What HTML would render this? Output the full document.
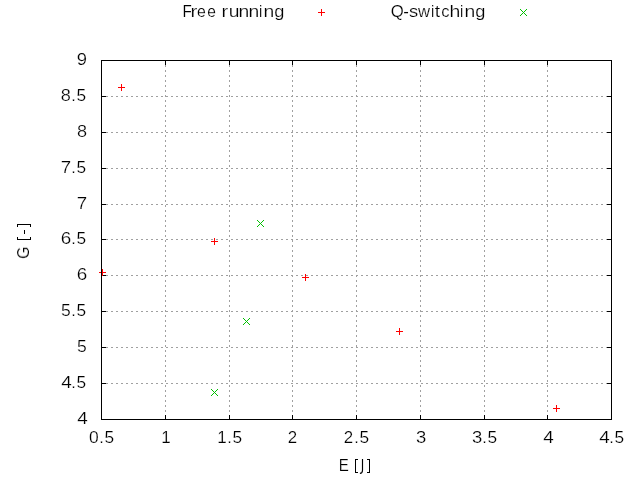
<!DOCTYPE html>
<html><head><meta charset="utf-8"><title>plot</title>
<style>html,body{margin:0;padding:0;background:#fff;overflow:hidden}svg{display:block}text{font-family:"Liberation Sans",sans-serif;fill:#000000;stroke:#fff;stroke-width:0.2px}.d{font-size:16.75px}.l{font-size:17.0px}</style>
</head><body>
<svg width="640" height="480" viewBox="0 0 640 480">
<rect x="0" y="0" width="640" height="480" fill="#ffffff"/>
<g shape-rendering="crispEdges" stroke="#a0a0a0" stroke-width="1" stroke-dasharray="2 3" fill="none">
<line x1="101" y1="383.5" x2="612" y2="383.5"/>
<line x1="101" y1="347.5" x2="612" y2="347.5"/>
<line x1="101" y1="311.5" x2="612" y2="311.5"/>
<line x1="101" y1="275.5" x2="612" y2="275.5"/>
<line x1="101" y1="239.5" x2="612" y2="239.5"/>
<line x1="101" y1="204.5" x2="612" y2="204.5"/>
<line x1="101" y1="168.5" x2="612" y2="168.5"/>
<line x1="101" y1="132.5" x2="612" y2="132.5"/>
<line x1="101" y1="96.5" x2="612" y2="96.5"/>
<line x1="165.5" y1="60" x2="165.5" y2="420"/>
<line x1="229.5" y1="60" x2="229.5" y2="420"/>
<line x1="292.5" y1="60" x2="292.5" y2="420"/>
<line x1="356.5" y1="60" x2="356.5" y2="420"/>
<line x1="420.5" y1="60" x2="420.5" y2="420"/>
<line x1="484.5" y1="60" x2="484.5" y2="420"/>
<line x1="547.5" y1="60" x2="547.5" y2="420"/>
</g>
<g shape-rendering="crispEdges" fill="#000000">
<rect x="102" y="383" width="4" height="1"/>
<rect x="607" y="383" width="4" height="1"/>
<rect x="102" y="347" width="4" height="1"/>
<rect x="607" y="347" width="4" height="1"/>
<rect x="102" y="311" width="4" height="1"/>
<rect x="607" y="311" width="4" height="1"/>
<rect x="102" y="275" width="4" height="1"/>
<rect x="607" y="275" width="4" height="1"/>
<rect x="102" y="239" width="4" height="1"/>
<rect x="607" y="239" width="4" height="1"/>
<rect x="102" y="204" width="4" height="1"/>
<rect x="607" y="204" width="4" height="1"/>
<rect x="102" y="168" width="4" height="1"/>
<rect x="607" y="168" width="4" height="1"/>
<rect x="102" y="132" width="4" height="1"/>
<rect x="607" y="132" width="4" height="1"/>
<rect x="102" y="96" width="4" height="1"/>
<rect x="607" y="96" width="4" height="1"/>
<rect x="165" y="415" width="1" height="4"/>
<rect x="165" y="61" width="1" height="4"/>
<rect x="229" y="415" width="1" height="4"/>
<rect x="229" y="61" width="1" height="4"/>
<rect x="292" y="415" width="1" height="4"/>
<rect x="292" y="61" width="1" height="4"/>
<rect x="356" y="415" width="1" height="4"/>
<rect x="356" y="61" width="1" height="4"/>
<rect x="420" y="415" width="1" height="4"/>
<rect x="420" y="61" width="1" height="4"/>
<rect x="484" y="415" width="1" height="4"/>
<rect x="484" y="61" width="1" height="4"/>
<rect x="547" y="415" width="1" height="4"/>
<rect x="547" y="61" width="1" height="4"/>
</g>
<g shape-rendering="crispEdges" fill="#ff0000">
<rect x="318" y="12" width="7" height="1"/><rect x="321" y="9" width="1" height="7"/>
<rect x="99" y="272" width="7" height="1"/><rect x="102" y="269" width="1" height="7"/>
<rect x="118" y="87" width="7" height="1"/><rect x="121" y="84" width="1" height="7"/>
<rect x="211" y="241" width="7" height="1"/><rect x="214" y="238" width="1" height="7"/>
<rect x="302" y="277" width="7" height="1"/><rect x="305" y="274" width="1" height="7"/>
<rect x="396" y="331" width="7" height="1"/><rect x="399" y="328" width="1" height="7"/>
<rect x="553" y="408" width="7" height="1"/><rect x="556" y="405" width="1" height="7"/>
</g>
<g shape-rendering="crispEdges" fill="#00c000">
<rect x="520" y="9" width="1" height="1"/><rect x="520" y="15" width="1" height="1"/><rect x="521" y="10" width="1" height="1"/><rect x="521" y="14" width="1" height="1"/><rect x="522" y="11" width="1" height="1"/><rect x="522" y="13" width="1" height="1"/><rect x="523" y="12" width="1" height="1"/><rect x="524" y="13" width="1" height="1"/><rect x="524" y="11" width="1" height="1"/><rect x="525" y="14" width="1" height="1"/><rect x="525" y="10" width="1" height="1"/><rect x="526" y="15" width="1" height="1"/><rect x="526" y="9" width="1" height="1"/>
<rect x="257" y="220" width="1" height="1"/><rect x="257" y="226" width="1" height="1"/><rect x="258" y="221" width="1" height="1"/><rect x="258" y="225" width="1" height="1"/><rect x="259" y="222" width="1" height="1"/><rect x="259" y="224" width="1" height="1"/><rect x="260" y="223" width="1" height="1"/><rect x="261" y="224" width="1" height="1"/><rect x="261" y="222" width="1" height="1"/><rect x="262" y="225" width="1" height="1"/><rect x="262" y="221" width="1" height="1"/><rect x="263" y="226" width="1" height="1"/><rect x="263" y="220" width="1" height="1"/>
<rect x="243" y="318" width="1" height="1"/><rect x="243" y="324" width="1" height="1"/><rect x="244" y="319" width="1" height="1"/><rect x="244" y="323" width="1" height="1"/><rect x="245" y="320" width="1" height="1"/><rect x="245" y="322" width="1" height="1"/><rect x="246" y="321" width="1" height="1"/><rect x="247" y="322" width="1" height="1"/><rect x="247" y="320" width="1" height="1"/><rect x="248" y="323" width="1" height="1"/><rect x="248" y="319" width="1" height="1"/><rect x="249" y="324" width="1" height="1"/><rect x="249" y="318" width="1" height="1"/>
<rect x="211" y="389" width="1" height="1"/><rect x="211" y="395" width="1" height="1"/><rect x="212" y="390" width="1" height="1"/><rect x="212" y="394" width="1" height="1"/><rect x="213" y="391" width="1" height="1"/><rect x="213" y="393" width="1" height="1"/><rect x="214" y="392" width="1" height="1"/><rect x="215" y="393" width="1" height="1"/><rect x="215" y="391" width="1" height="1"/><rect x="216" y="394" width="1" height="1"/><rect x="216" y="390" width="1" height="1"/><rect x="217" y="395" width="1" height="1"/><rect x="217" y="389" width="1" height="1"/>
</g>
<g shape-rendering="crispEdges" fill="#000000">
<rect x="101" y="60" width="511" height="1"/>
<rect x="101" y="419" width="511" height="1"/>
<rect x="101" y="60" width="1" height="360"/>
<rect x="611" y="60" width="1" height="360"/>
</g>
<g style="will-change:transform">
<text class="d" transform="translate(77.27,424.00) scale(1.1315,1)">4</text>
<text class="d" transform="translate(61.22,388.00) scale(1.1315,1)">4</text><text class="d" transform="translate(71.16,388.00) scale(0.9719,1)">.</text><text class="d" transform="translate(76.46,388.00) scale(1.0325,1)">5</text>
<text class="d" transform="translate(77.00,352.00) scale(1.0451,1)">5</text>
<text class="d" transform="translate(60.95,316.00) scale(1.0451,1)">5</text><text class="d" transform="translate(71.16,316.00) scale(0.9719,1)">.</text><text class="d" transform="translate(76.46,316.00) scale(1.0325,1)">5</text>
<text class="d" transform="translate(76.74,280.00) scale(1.1256,1)">6</text>
<text class="d" transform="translate(60.69,244.00) scale(1.1256,1)">6</text><text class="d" transform="translate(71.16,244.00) scale(0.9719,1)">.</text><text class="d" transform="translate(76.46,244.00) scale(1.0325,1)">5</text>
<text class="d" transform="translate(76.74,209.00) scale(1.1163,1)">7</text>
<text class="d" transform="translate(60.69,173.00) scale(1.1163,1)">7</text><text class="d" transform="translate(71.16,173.00) scale(0.9719,1)">.</text><text class="d" transform="translate(76.46,173.00) scale(1.0325,1)">5</text>
<text class="d" transform="translate(76.91,137.00) scale(1.0815,1)">8</text>
<text class="d" transform="translate(60.86,101.00) scale(1.0815,1)">8</text><text class="d" transform="translate(71.16,101.00) scale(0.9719,1)">.</text><text class="d" transform="translate(76.46,101.00) scale(1.0325,1)">5</text>
<text class="d" transform="translate(76.84,65.00) scale(1.0986,1)">9</text>
<text class="d" transform="translate(88.97,443.00) scale(1.0428,1)">0</text><text class="d" transform="translate(99.16,443.00) scale(0.9719,1)">.</text><text class="d" transform="translate(104.46,443.00) scale(1.0325,1)">5</text>
<text class="d" transform="translate(161.35,443.00) scale(1.0178,1)">1</text>
<text class="d" transform="translate(217.35,443.00) scale(1.0178,1)">1</text><text class="d" transform="translate(227.16,443.00) scale(0.9719,1)">.</text><text class="d" transform="translate(232.46,443.00) scale(1.0325,1)">5</text>
<text class="d" transform="translate(287.80,443.00) scale(1.0091,1)">2</text>
<text class="d" transform="translate(343.80,443.00) scale(1.0091,1)">2</text><text class="d" transform="translate(354.16,443.00) scale(0.9719,1)">.</text><text class="d" transform="translate(359.46,443.00) scale(1.0325,1)">5</text>
<text class="d" transform="translate(415.95,443.00) scale(1.1018,1)">3</text>
<text class="d" transform="translate(471.95,443.00) scale(1.1018,1)">3</text><text class="d" transform="translate(482.16,443.00) scale(0.9719,1)">.</text><text class="d" transform="translate(487.46,443.00) scale(1.0325,1)">5</text>
<text class="d" transform="translate(543.22,443.00) scale(1.1315,1)">4</text>
<text class="d" transform="translate(599.22,443.00) scale(1.1315,1)">4</text><text class="d" transform="translate(609.16,443.00) scale(0.9719,1)">.</text><text class="d" transform="translate(614.46,443.00) scale(1.0325,1)">5</text>
<text class="l" transform="translate(182.40,17.00) scale(0.8966,1)">F</text>
<text class="l" transform="translate(190.60,17.00) scale(1.2000,1)">r</text>
<text class="l" transform="translate(196.98,17.00) scale(0.9339,1)">e</text>
<text class="l" transform="translate(207.24,17.00) scale(0.9151,1)">e</text>
<text class="l" transform="translate(221.57,17.00) scale(1.1765,1)">r</text>
<text class="l" transform="translate(228.65,17.00) scale(1.1355,1)">u</text>
<text class="l" transform="translate(238.62,17.00) scale(1.1355,1)">n</text>
<text class="l" transform="translate(248.62,17.00) scale(1.1355,1)">n</text>
<text class="l" transform="translate(258.91,17.00) scale(0.8701,1)">i</text>
<text class="l" transform="translate(263.62,17.00) scale(1.1355,1)">n</text>
<text class="l" transform="translate(274.13,17.00) scale(1.0726,1)">g</text>
<text class="l" transform="translate(390.86,17.00) scale(0.9867,1)">Q</text>
<text class="l" transform="translate(403.25,17.00) scale(0.9879,1)">-</text>
<text class="l" transform="translate(408.99,17.00) scale(1.0792,1)">s</text>
<text class="l" transform="translate(418.02,17.00) scale(0.9803,1)">w</text>
<text class="l" transform="translate(430.91,17.00) scale(0.8701,1)">i</text>
<text class="l" transform="translate(434.86,17.00) scale(1.1402,1)">t</text>
<text class="l" transform="translate(441.29,17.00) scale(0.9823,1)">c</text>
<text class="l" transform="translate(449.55,17.00) scale(1.1434,1)">h</text>
<text class="l" transform="translate(459.91,17.00) scale(0.8701,1)">i</text>
<text class="l" transform="translate(464.62,17.00) scale(1.1355,1)">n</text>
<text class="l" transform="translate(475.13,17.00) scale(1.0726,1)">g</text>
<text class="l" transform="translate(338.66,471.00) scale(0.8900,1)">E</text>
<g transform="translate(29,258) rotate(-90)">
<text class="l" transform="translate(-0.89,0.00) scale(0.9281,1)">G</text>
</g>
</g>
<g shape-rendering="crispEdges" fill="#000000">
<rect x="355" y="459" width="1" height="14"/><rect x="355" y="459" width="3" height="1"/><rect x="355" y="472" width="3" height="1"/>
<rect x="369" y="459" width="1" height="14"/><rect x="367" y="459" width="3" height="1"/><rect x="367" y="472" width="3" height="1"/>
<rect x="17" y="224" width="14" height="1"/><rect x="17" y="224" width="1" height="3"/><rect x="30" y="224" width="1" height="3"/>
<rect x="24" y="230" width="1" height="4"/>
<rect x="17" y="239" width="14" height="1"/><rect x="17" y="237" width="1" height="3"/><rect x="30" y="237" width="1" height="3"/>
</g>
<path d="M362.5,459 L362.5,470.3 Q362.5,473.4 359.9,473.4" fill="none" stroke="#000" stroke-width="1.15" stroke-linecap="butt"/>
</svg>
</body></html>
